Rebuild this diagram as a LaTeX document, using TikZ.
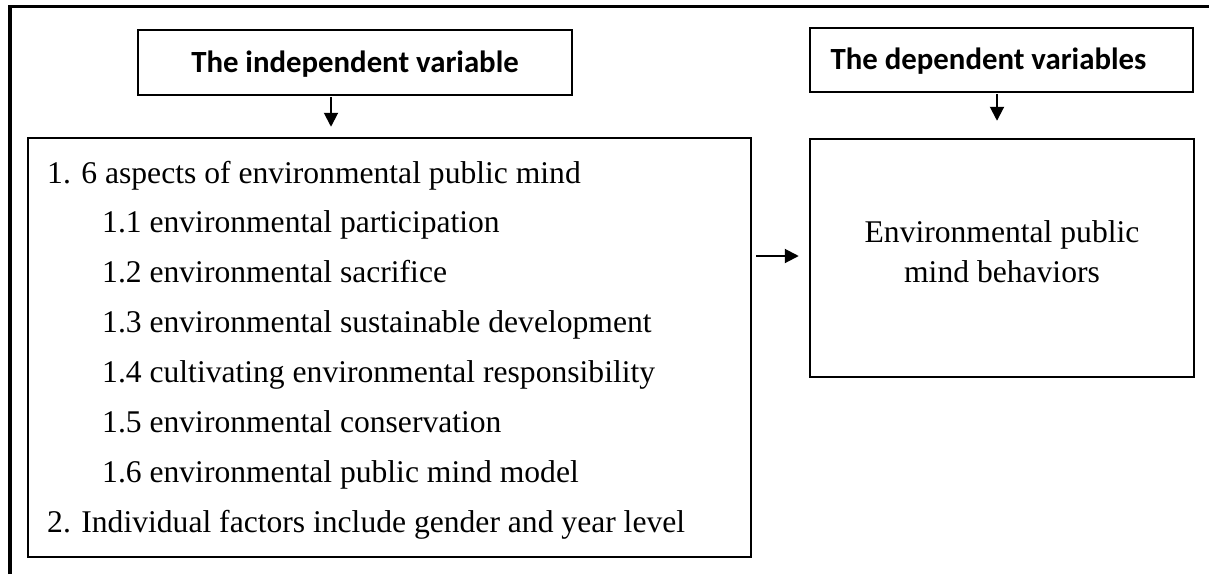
\documentclass[tikz,border=0pt]{standalone}
\usepackage{fontspec}
\setmainfont{Liberation Serif}
\newfontfamily\titlefont{Carlito}
\usetikzlibrary{arrows.meta,calc}
\begin{document}
\begin{tikzpicture}[x=1pt,y=-1pt,
  box/.style={draw, line width=2.2pt, inner sep=0pt},
  bigbox/.style={draw, line width=2.5pt, inner sep=0pt},
  titletext/.style={font=\titlefont\bfseries\fontsize{30.8}{36}\selectfont, text height=19pt, text depth=0pt},
  body/.style={font=\fontsize{31.6}{40}\selectfont, anchor=base west, inner sep=0pt},
  arr/.style={line width=2pt, -{Triangle[length=14pt,width=14pt]}},
]
\useasboundingbox (0,0) rectangle (1209,574);
\fill[white] (0,0) rectangle (1209,574);
% outer frame (top and left edges)
\draw[line width=3.6pt] (9.8,574) -- (9.8,6.3) -- (1209,6.3);

% title boxes
\node[box, titletext, minimum width=434pt, minimum height=65pt] (indep) at (355,62.5) {The independent variable};
\node[box, titletext, minimum width=383pt, minimum height=64pt] (dep) at (1001.5,60) {The dependent variables\hspace*{26pt}};

% main boxes
\node[bigbox, minimum width=723pt, minimum height=419pt] (big) at (389.5,347.5) {};
\node[bigbox, minimum width=384pt, minimum height=238pt] (rbox) at (1002,258) {};

% left box text
\node[body] (l1) at (47,183) {1. 6 aspects of environmental public mind};
\node[body] (l2) at (102,232.85) {1.1 environmental participation};
\node[body] (l3) at (102,282.7) {1.2 environmental sacrifice};
\node[body] (l4) at (102,332.55) {1.3 environmental sustainable development};
\node[body] (l5) at (102,382.4) {1.4 cultivating environmental responsibility};
\node[body] (l6) at (102,432.25) {1.5 environmental conservation};
\node[body] (l7) at (102,482.1) {1.6 environmental public mind model};
\node[body] (l8) at (47,532) {2. Individual factors include gender and year level};

% right box text
\node[body, anchor=base] (r1) at (1002,242) {Environmental public};
\node[body, anchor=base] (r2) at (1002,282) {mind behaviors};

% arrows
\draw[arr] ([xshift=-24pt,yshift=-1pt]indep.south) -- ([xshift=-58.5pt,yshift=10pt]big.north);
\draw[arr] ([xshift=-4.5pt,yshift=-1pt]dep.south) -- ([xshift=-5pt,yshift=17pt]rbox.north);
\draw[arr] ($(big.east |- rbox.west)+(4,-2)$) -- ($(rbox.west)+(-10,-2)$);
\end{tikzpicture}
\end{document}
